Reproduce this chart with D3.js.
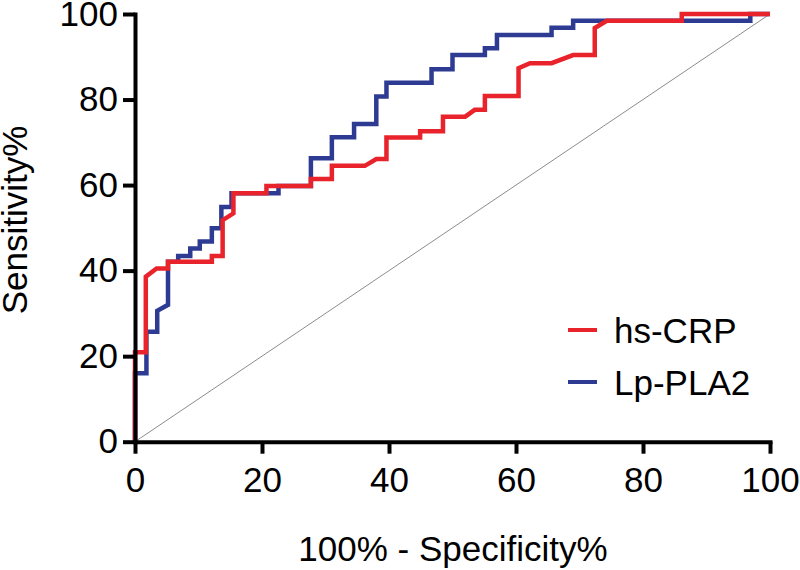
<!DOCTYPE html>
<html>
<head>
<meta charset="utf-8">
<script src="https://cdn.jsdelivr.net/npm/d3@7"></script>
<style>
  body { margin: 0; background: #fff; }
  text { font-family: "Liberation Sans", Arial, Helvetica, sans-serif; }
</style>
</head>
<body>
<svg id="Viz"></svg>
<script>
var width = 800,
    height = 570;

// ROC step points: 100% - specificity (x) and sensitivity (y), in %
var crpX = [0, 0, 1.7, 1.7, 3.4, 5.2, 5.2, 12.1, 12.1, 13.8, 13.8, 15.5, 15.5, 20.7, 20.7, 27.7, 27.7, 31.0, 31.0, 36.2, 38.0, 39.6, 39.6, 44.9, 44.9, 48.5, 48.5, 52.0, 53.5, 55.1, 55.1, 60.4, 60.4, 62.2, 65.6, 69.0, 72.4, 72.4, 74.3, 86.1, 86.1, 100];
var crpY = [0, 20.9, 20.9, 38.6, 40.5, 40.5, 42.1, 42.1, 43.4, 43.4, 51.8, 53.4, 58.1, 58.1, 59.8, 59.8, 61.4, 61.4, 64.5, 64.5, 66.1, 66.1, 71.1, 71.1, 72.6, 72.6, 76.0, 76.0, 77.6, 77.6, 80.8, 80.8, 87.3, 88.5, 88.5, 90.4, 90.4, 96.7, 98.4, 98.4, 100, 100];

var plaX = [0, 0, 1.8, 1.8, 3.5, 3.5, 5.2, 5.2, 6.8, 6.8, 8.7, 8.7, 10.2, 10.2, 12.1, 12.1, 13.6, 13.6, 15.2, 15.2, 22.6, 22.6, 27.7, 27.7, 31.0, 31.0, 34.5, 34.5, 38.0, 38.0, 39.6, 39.6, 46.7, 46.7, 50.0, 50.0, 55.1, 55.1, 57.0, 57.0, 65.6, 65.6, 69.0, 69.0, 96.9, 96.9, 100];
var plaY = [0, 16.0, 16.0, 25.7, 25.7, 30.6, 32.0, 42.1, 42.1, 43.4, 43.4, 45.2, 45.2, 46.8, 46.8, 49.9, 49.9, 54.9, 54.9, 58.1, 58.1, 59.8, 59.8, 66.3, 66.3, 71.2, 71.2, 74.3, 74.3, 80.7, 80.7, 83.9, 83.9, 87.1, 87.1, 90.4, 90.4, 92.0, 92.0, 95.1, 95.1, 96.8, 96.8, 98.4, 98.4, 100, 100];

var ticks = [0, 20, 40, 60, 80, 100];
var seriesNames = ["hs-CRP", "Lp-PLA2"];
var seriesColors = ["#e8232b", "#2e3b93"];

var svg = d3.select("#Viz").attr("width", width).attr("height", height);

var x = d3.scaleLinear().domain([0, 100]).range([135, 770]);
var y = d3.scaleLinear().domain([0, 100]).range([441.7, 14]);

// reference diagonal
svg.append("line")
    .attr("x1", x(0)).attr("y1", y(0))
    .attr("x2", x(100)).attr("y2", y(100))
    .style("stroke", "#8c8c8c")
    .style("stroke-width", 1);

var line = d3.line()
    .x(function(d){ return x(d[0]) })
    .y(function(d){ return y(d[1]) });

var pla = d3.zip(plaX, plaY);
var crp = d3.zip(crpX, crpY);

// blue under red, as in the figure
svg.append("path")
    .datum(pla)
    .attr("d", line)
    .style("fill", "none")
    .style("stroke", seriesColors[1])
    .style("stroke-width", 4.5)
    .style("stroke-linejoin", "miter");

svg.append("path")
    .datum(crp)
    .attr("d", line)
    .style("fill", "none")
    .style("stroke", seriesColors[0])
    .style("stroke-width", 4.5)
    .style("stroke-linejoin", "miter");

// axes
var xAxis = svg.append("g")
    .attr("transform", "translate(0," + y(0) + ")")
    .call(d3.axisBottom(x).tickValues(ticks).tickSize(12).tickSizeOuter(0).tickPadding(13));

var yAxis = svg.append("g")
    .attr("transform", "translate(" + x(0) + ",0)")
    .call(d3.axisLeft(y).tickValues(ticks).tickSize(12).tickSizeOuter(0).tickPadding(5));

[xAxis, yAxis].forEach(function(g){
  g.select(".domain").style("stroke", "#000").style("stroke-width", 4).style("stroke-linecap", "square");
  g.selectAll(".tick line").style("stroke", "#000").style("stroke-width", 4);
  g.selectAll(".tick text")
    .style("font-family", "'Liberation Sans', Arial, sans-serif")
    .style("font-size", "35px")
    .style("fill", "#000");
});

// axis titles
svg.append("text")
    .attr("x", 453)
    .attr("y", 561)
    .attr("text-anchor", "middle")
    .style("font-size", "35px")
    .text("100% - Specificity%");

svg.append("text")
    .attr("transform", "translate(27,220) rotate(-90)")
    .attr("text-anchor", "middle")
    .style("font-size", "35px")
    .text("Sensitivity%");

// legend
var legend = svg.append("g")
    .selectAll("g")
    .data(seriesNames)
    .enter()
    .append("g")
      .attr("transform", function(d, i){ return "translate(0," + (330 + i * 52) + ")" });

legend.append("line")
    .attr("x1", 568).attr("x2", 597)
    .attr("y1", 0).attr("y2", 0)
    .style("stroke", function(d, i){ return seriesColors[i] })
    .style("stroke-width", 4);

legend.append("text")
    .attr("x", 614)
    .attr("y", 13)
    .style("font-size", "35px")
    .text(function(d){ return d });
</script>
</body>
</html>
